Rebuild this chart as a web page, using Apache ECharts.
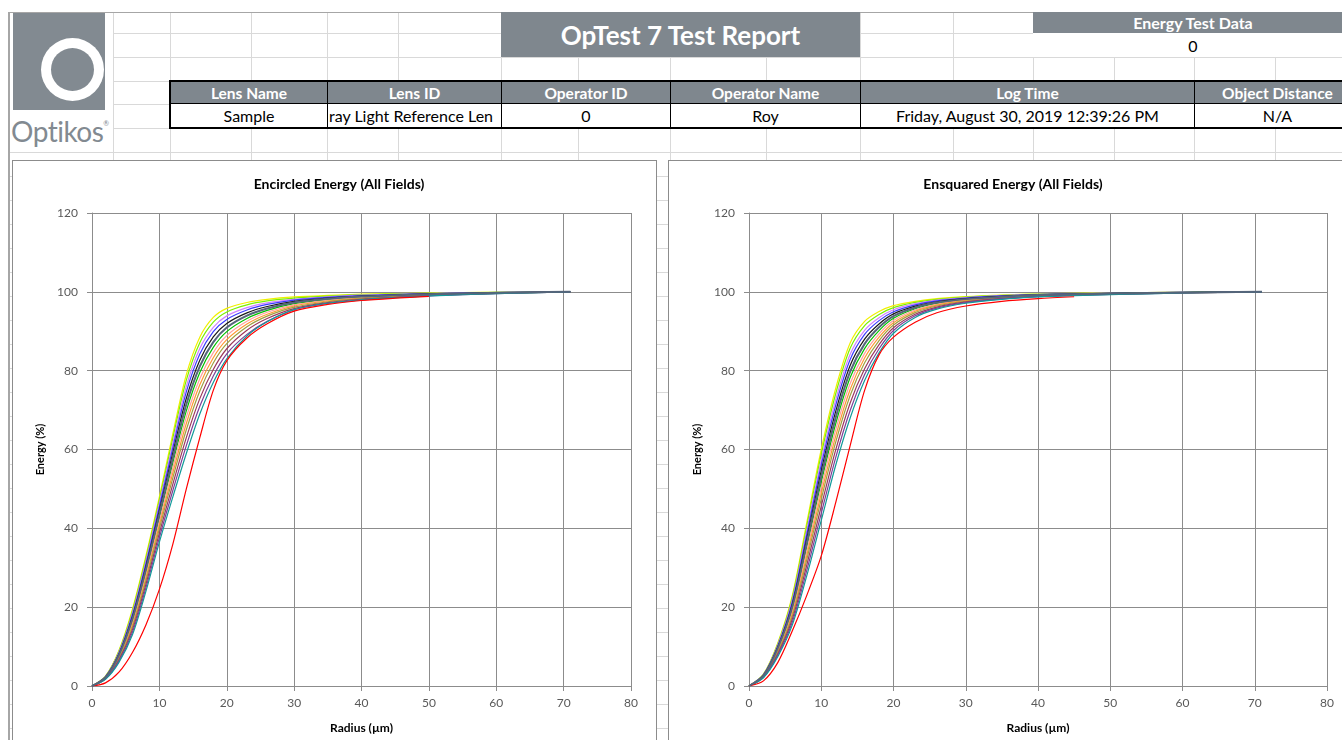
<!DOCTYPE html>
<html><head><meta charset="utf-8">
<script src="https://cdn.jsdelivr.net/npm/echarts/dist/echarts.min.js"></script>
<style>
html,body{margin:0;padding:0;}
body{width:1342px;height:740px;overflow:hidden;background:#fff;position:relative;font-family:Lato,'Open Sans',sans-serif;}
.a{position:absolute;box-sizing:border-box;}
.gv{position:absolute;width:1px;background:#d9d9d9;}
.gh{position:absolute;height:1px;background:#d9d9d9;}
.hdr{background:#7f878e;color:#fff;font-weight:bold;display:flex;align-items:center;justify-content:center;white-space:nowrap;}
.cell{display:flex;align-items:center;justify-content:center;white-space:nowrap;overflow:hidden;font-size:16px;color:#000;}
.panel{position:absolute;background:#fff;border:1px solid #8c8c8c;box-sizing:border-box;}
</style></head><body>
<div id="sheet"></div>
<div class="a" style="left:9px;top:12px;width:1333px;height:1px;background:#a6a6a6"></div>
<div class="a" style="left:8px;top:12px;width:2px;height:728px;background:#a6a6a6"></div>
<!-- logo -->
<div class="a" style="left:10px;top:13px;width:103px;height:139px;background:#fff"></div>
<div class="a" style="left:13px;top:13px;width:92px;height:97px;background:#828a91"></div>
<div class="a" style="left:41px;top:38px;width:63px;height:63px;border-radius:50%;background:#fff"></div>
<div class="a" style="left:51px;top:48px;width:43px;height:43px;border-radius:50%;background:#828a91"></div>
<div class="a" style="left:11px;top:114px;font-size:28px;color:#828a91;line-height:34px;letter-spacing:-0.5px">Optikos<span style="font-size:7px;vertical-align:top;line-height:18px">®</span></div>
<!-- title -->
<div class="a hdr" style="left:501px;top:12px;width:359px;height:45px;font-size:26px">OpTest 7 Test Report</div>
<div class="a hdr" style="left:1033px;top:12px;width:320px;height:21px;font-size:16px">Energy Test Data</div>
<div class="a cell" style="left:1033px;top:33px;width:320px;height:24px;background:#fff">0</div>
<div id="tbl"></div>
<div class="panel" id="c1" style="left:12px;top:160px;width:645px;height:600px"></div>
<div class="panel" id="c2" style="left:668px;top:160px;width:700px;height:600px"></div>
<script>
// ---- sheet layout / header content ----
const sheetCols = [113,170,251,327,398,501,578,670,766,860,953,1033,1114,1194,1275];
const sheetRows = [33,57,81,104,128,152,176,200,224,248,272,296,320,344,368,392,416,440,464,488,512,536,560,584,608,632,656,680,704,728];
const tableCols = [170,327,501,670,860,1194,1360];
const tableHeaders = ['Lens Name','Lens ID','Operator ID','Operator Name','Log Time','Object Distance'];
const tableValues = ['Sample','ray Light Reference Len','0','Roy','Friday, August 30, 2019 12:39:26 PM','N/A'];

(function(){
  const s = document.getElementById('sheet');
  sheetCols.forEach(x=>{const d=document.createElement('div');d.className='gv';d.style.left=x+'px';d.style.top='12px';d.style.height='728px';s.appendChild(d);});
  sheetRows.forEach(y=>{const d=document.createElement('div');d.className='gh';d.style.left=(y>=152?10:113)+'px';d.style.top=y+'px';d.style.width='1340px';s.appendChild(d);});
  const t = document.getElementById('tbl');
  const box=document.createElement('div');box.className='a';
  box.style.cssText='left:169px;top:80px;width:1200px;height:49px;border:2px solid #000;background:#fff;';
  t.appendChild(box);
  for(let i=0;i<tableHeaders.length;i++){
    const x0=tableCols[i], x1=tableCols[i+1];
    const h=document.createElement('div');h.className='a hdr';
    h.style.cssText+='left:'+x0+'px;top:82px;width:'+(x1-x0)+'px;height:22px;font-size:15.5px;border-left:1px solid #000;border-bottom:1px solid #000;';
    h.textContent=tableHeaders[i];t.appendChild(h);
    const v=document.createElement('div');v.className='a cell';
    v.style.cssText+='left:'+x0+'px;top:104px;width:'+(x1-x0)+'px;height:23px;border-left:1px solid #000;';
    if(i===1){v.style.justifyContent='flex-start';v.style.paddingLeft='1px';}
    v.textContent=tableValues[i];t.appendChild(v);
  }
})();

// ---- chart data ----
const radius = [0,2,4,6,8,10,12,14,16,18,20,23,26,30,35,40,45,50,55,60,65,71];

const enc01 = [0,2.5,9,19.5,33,48,64,79,88.5,93.5,95.8,97.3,98.1,98.7,99.1,99.4,99.55,99.7,99.8,99.88,99.94,100];
const enc02 = [0,2.44,8.8,19.0,32.4,47.2,62.9,77.6,87.1,92.3,94.9,96.7,97.7,98.4,98.9,99.3,99.47,99.64,99.76,99.85,99.93,100];
const enc03 = [0,2.38,8.55,18.5,31.65,46.3,61.6,76,85.6,91.0,93.9,96.0,97.2,98.1,98.75,99.16,99.38,99.58,99.72,99.82,99.91,100];
const enc04 = [0,2.32,8.34,18.07,31.0,45.5,60.5,74.6,84.2,89.9,93.0,95.4,96.8,97.9,98.6,99.05,99.3,99.52,99.68,99.8,99.9,100];
const enc05 = [0,2.26,8.1,17.55,30.3,44.55,59.2,73,82.65,88.55,91.96,94.66,96.27,97.59,98.41,98.92,99.2,99.46,99.64,99.77,99.88,100];
const enc06 = [0,2.2,7.86,17.03,29.58,43.63,57.92,71.4,81.09,87.23,90.94,93.96,95.78,97.29,98.23,98.79,99.11,99.4,99.59,99.74,99.87,100];
const enc07 = [0,2.13,7.62,16.51,28.86,42.71,56.64,69.8,79.53,85.91,89.91,93.25,95.29,97.0,98.04,98.66,99.02,99.33,99.55,99.7,99.85];
const enc08 = [0,2.07,7.38,15.99,28.14,41.79,55.36,68.2,77.97,84.59,88.89,92.55,94.81,96.7,97.86,98.54,98.93,99.27,99.5];
const enc09 = [0,2.0,7.14,15.47,27.42,40.87,54.08,66.6,76.41,83.27,87.86,91.84,94.32,96.41,97.67,98.41,98.84,99.2,99.46,99.64];
const enc10 = [0,1.94,6.9,14.95,26.7,39.95,52.8,65,74.85,81.95,86.84,91.14,93.83,96.11,97.49,98.28,98.75,99.14,99.42,99.61,99.81,100];
const enc11 = [0,1.86,6.6,14.3,25.8,38.8,51.2,63,72.9,80.3,85.56,90.26,93.22,95.74,97.26,98.12,98.63,99.06,99.36,99.58,99.79,100];
const enc12 = [0,1.78,6.3,13.65,24.9,37.65,49.6,61,70.95,78.65,84.28,89.2,92.5,95.45,97.08,97.98,98.55,98.98,99.3,99.54,99.77,100];
const enc13 = [0,1.7,6,13,24,36.5,48,59,69,77,83,88.8,92.4,95.5,97.1,97.95,98.5,98.95,99.28,99.53,99.76,100];
const enc14 = [0,0.8,3.5,8.5,15.5,24.5,36,50,63,75,82.5,88.3,91.9,95.1,96.8,97.8,98.4,98.85];

const squ01 = [0,3,11,23,41.5,60,75.5,87,92.5,95,96.5,97.6,98.3,98.8,99.2,99.45,99.6,99.72,99.8,99.88,99.94,100];
const squ02 = [0,2.94,10.76,22.48,40.56,58.74,74.14,85.67,91.45,94.27,96.01,97.31,98.11,98.68,99.12,99.4,99.56,99.69,99.78,99.87,99.93,100];
const squ03 = [0,2.87,10.48,21.88,39.48,57.3,72.58,84.15,90.25,93.43,95.45,96.99,97.9,98.55,99.04,99.34,99.52,99.66,99.76,99.85,99.93,100];
const squ04 = [0,2.8,10.23,21.35,38.53,56.04,71.21,82.82,89.2,92.69,94.96,96.7,97.71,98.43,98.96,99.29,99.48,99.63,99.73,99.84,99.92,100];
const squ05 = [0,2.73,9.95,20.75,37.45,54.6,69.65,81.3,88,91.85,94.4,96.37,97.49,98.29,98.87,99.23,99.44,99.59,99.71,99.83,99.91,100];
const squ06 = [0,2.66,9.67,20.15,36.37,53.16,68.09,79.78,86.8,91.01,93.84,96.04,97.27,98.15,98.78,99.17,99.39,99.56,99.69,99.81,99.91,100];
const squ07 = [0,2.59,9.39,19.55,35.29,51.72,66.53,78.26,85.6,90.17,93.28,95.71,97.06,98.02,98.69,99.1,99.35,99.53,99.66,99.8,99.9];
const squ08 = [0,2.51,9.11,18.95,34.21,50.28,64.97,76.74,84.4,89.33,92.72,95.39,96.84,97.88,98.61,99.05,99.3,99.49,99.64];
const squ09 = [0,2.44,8.83,18.35,33.13,48.84,63.41,75.22,83.2,88.49,92.16,95.06,96.63,97.75,98.52,98.99,99.26,99.46,99.61,99.77];
const squ10 = [0,2.37,8.55,17.75,32.05,47.4,61.85,73.7,82,87.65,91.6,94.73,96.41,97.61,98.43,98.93,99.22,99.43,99.59,99.75,99.88,100];
const squ11 = [0,2.28,8.2,17,30.7,45.6,59.9,71.8,80.5,86.6,90.9,94.32,96.14,97.44,98.32,98.85,99.16,99.38,99.56,99.74,99.87,100];
const squ12 = [0,2.19,7.85,16.25,29.35,43.8,57.95,69.9,79,85.55,90.2,93.91,95.87,97.27,98.21,98.78,99.11,99.34,99.53,99.72,99.86,100];
const squ13 = [0,2.1,7.5,15.5,28,42,56,68,77.5,84.5,89.5,93.5,95.6,97.1,98.1,98.7,99.05,99.3,99.5,99.7,99.85,100];
const squ14 = [0,1.3,6,14,23,33,46.5,61,75,84,88.5,92.3,94.7,96.4,97.6,98.3,98.75];

const fieldNames = ['Field 1','Field 2','Field 3','Field 4','Field 5','Field 6','Field 7','Field 8','Field 9','Field 10','Field 11','Field 12','Field 13','Field 14'];
const encircledSeries = [enc01,enc02,enc03,enc04,enc05,enc06,enc07,enc08,enc09,enc10,enc11,enc12,enc13,enc14];
const ensquaredSeries = [squ01,squ02,squ03,squ04,squ05,squ06,squ07,squ08,squ09,squ10,squ11,squ12,squ13,squ14];

// ---- styles ----
const fieldColors = ['#f0f000','#7cf000','#d080ff','#3a3aff','#1a1a1a','#55657a','#00c000','#ff9f9f','#ff9933','#a0a040','#9c3a5c','#7d3f98','#129a9a','#ff0000'];
const fieldWidths = [1.2,1.2,1.2,1.2,1.2,2,1.2,1.2,1.2,1.2,1.2,1.2,1.2,1.2];

function makeOption(title, titleX, gridLeft, gridWidth, sets){
  const axisGray = '#8c8c8c';
  return {
    animation:false,
    title:{text:title,left:titleX,top:11,textAlign:'center',textStyle:{fontFamily:'Lato',fontSize:14,fontWeight:'bold',color:'#000'}},
    grid:{left:gridLeft,top:52,width:gridWidth,height:473,containLabel:false},
    xAxis:{type:'value',min:0,max:80,interval:10,
      name:'Radius (µm)',nameLocation:'middle',nameGap:36,
      nameTextStyle:{fontFamily:'Lato',fontSize:12,fontWeight:'bold',color:'#000'},
      axisLine:{show:true,lineStyle:{color:axisGray}},
      axisTick:{show:true,length:5,lineStyle:{color:axisGray}},
      axisLabel:{color:'#595959',fontSize:12,fontFamily:'Lato',margin:11},
      splitLine:{show:true,lineStyle:{color:axisGray,width:1}}},
    yAxis:{type:'value',min:0,max:120,interval:20,
      name:'Energy (%)',nameLocation:'middle',nameGap:44,nameRotate:90,
      nameTextStyle:{fontFamily:'Lato',fontSize:11,fontWeight:'bold',color:'#000'},
      axisLine:{show:true,lineStyle:{color:axisGray}},
      axisTick:{show:true,length:5,lineStyle:{color:axisGray}},
      axisLabel:{color:'#595959',fontSize:12,fontFamily:'Lato',margin:14},
      splitLine:{show:true,lineStyle:{color:axisGray,width:1}}},
    series: sets.map((vals,i)=>({
      name:fieldNames[i],type:'line',showSymbol:false,smooth:0.3,silent:true,
      z: i===5 ? 5 : 2,
      lineStyle:{color:fieldColors[i],width:fieldWidths[i]},
      data: vals.map((v,j)=>[radius[j],v])
    }))
  };
}
const ch1 = echarts.init(document.getElementById('c1'),null,{renderer:'canvas'});
ch1.setOption(makeOption('Encircled Energy (All Fields)',321,79,539,encircledSeries));
const ch2 = echarts.init(document.getElementById('c2'),null,{renderer:'canvas'});
ch2.setOption(makeOption('Ensquared Energy (All Fields)',339,80,578,ensquaredSeries));
</script>
</body></html>
